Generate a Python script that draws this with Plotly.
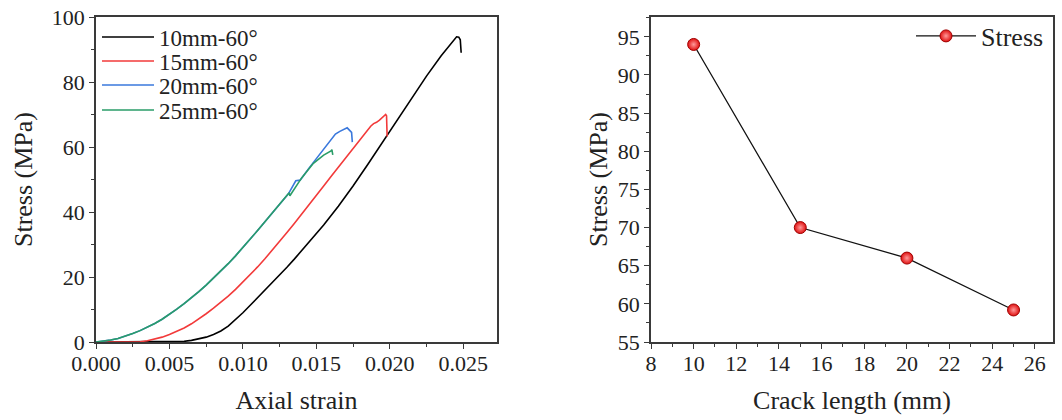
import plotly.graph_objects as go

# ---------------- Data: left panel (stress-strain curves) ----------------
strain_10 = [0.0000, 0.0050, 0.0055, 0.0060, 0.0065, 0.0070, 0.0075, 0.0080, 0.0085,
             0.0090, 0.0095, 0.0100, 0.0105, 0.0110, 0.0115, 0.0120, 0.0125, 0.0130,
             0.0135, 0.0145, 0.0155, 0.0165, 0.0175, 0.0185, 0.0195, 0.0205, 0.0215,
             0.0225, 0.0235, 0.0240, 0.0243, 0.02455, 0.0247, 0.0248, 0.02486]
stress_10 = [0.0, 0.0, 0.05, 0.2, 0.5, 0.9, 1.5, 2.3, 3.4,
             4.9, 6.8, 9.0, 11.3, 13.6, 15.9, 18.2, 20.6, 23.0,
             25.5, 30.6, 36.0, 41.8, 48.0, 54.6, 61.4, 68.3, 75.1,
             81.8, 88.1, 91.0, 92.7, 93.9, 93.8, 93.0, 89.0]

strain_15 = [0.0000, 0.0025, 0.0030, 0.0035, 0.0040, 0.0045, 0.0050, 0.0055, 0.0060,
             0.0065, 0.0070, 0.0075, 0.0080, 0.0085, 0.0090, 0.0095, 0.0100, 0.0105,
             0.0110, 0.0115, 0.0120, 0.0125, 0.0130, 0.0135, 0.0140, 0.0145, 0.0150,
             0.0155, 0.0160, 0.0165, 0.0170, 0.0175, 0.0180, 0.0184, 0.0187, 0.0189,
             0.0191, 0.0193, 0.0195, 0.01972, 0.01978, 0.01982]
stress_15 = [0.0, 0.0, 0.1, 0.4, 0.9, 1.5, 2.3, 3.2, 4.3,
             5.6, 7.1, 8.7, 10.4, 12.2, 14.1, 16.2, 18.4, 20.7,
             23.1, 25.6, 28.2, 30.9, 33.7, 36.5, 39.3, 42.2, 45.1,
             48.0, 50.9, 53.8, 56.7, 59.5, 62.3, 64.5, 66.4, 67.2,
             67.6, 68.3, 69.1, 70.0, 69.6, 63.2]

strain_20 = [0.0000, 0.0005, 0.0010, 0.0015, 0.0020, 0.0025, 0.0030, 0.0035, 0.0040,
             0.0045, 0.0050, 0.0055, 0.0060, 0.0065, 0.0070, 0.0075, 0.0080, 0.0085,
             0.0090, 0.0095, 0.0100, 0.0105, 0.0110, 0.0115, 0.0120, 0.0125, 0.0131,
             0.0136, 0.0139, 0.0145, 0.0155, 0.0163, 0.0166, 0.0171, 0.0174, 0.01745]
stress_20 = [0.0, 0.2, 0.6, 1.1, 1.8, 2.6, 3.5, 4.5, 5.7,
             7.0, 8.5, 10.1, 11.8, 13.6, 15.5, 17.5, 19.6, 21.8,
             24.1, 26.5, 29.0, 31.6, 34.3, 37.0, 39.7, 42.4, 45.6,
             49.6, 49.8, 53.5, 59.5, 64.0, 64.8, 65.9, 64.5, 61.5]

strain_25 = [0.0000, 0.0005, 0.0010, 0.0015, 0.0020, 0.0025, 0.0030, 0.0035, 0.0040,
             0.0045, 0.0050, 0.0055, 0.0060, 0.0065, 0.0070, 0.0075, 0.0080, 0.0085,
             0.0090, 0.0095, 0.0100, 0.0105, 0.0110, 0.0115, 0.0120, 0.0125, 0.0130,
             0.01315, 0.0132, 0.0134, 0.0140, 0.0148, 0.0155, 0.0160, 0.01606, 0.01612]
stress_25 = [0.0, 0.2, 0.6, 1.1, 1.8, 2.6, 3.5, 4.5, 5.7,
             7.0, 8.5, 10.1, 11.8, 13.6, 15.5, 17.5, 19.6, 21.8,
             24.1, 26.5, 29.0, 31.6, 34.3, 37.0, 39.7, 42.4, 45.2,
             45.9, 45.0, 46.4, 50.5, 55.0, 57.5, 58.8, 59.2, 57.6]

curve_names = ["10mm-60°", "15mm-60°", "20mm-60°", "25mm-60°"]
curve_colors = ["#000000", "#f23a3a", "#3a78dc", "#2a9d68"]
legend_rows = [37, 61, 85, 110]  # pixel centre of each legend row

# ---------------- Data: right panel (peak stress vs crack length) ----------------
crack_length = [10, 15, 20, 25]
peak_stress = [94.0, 70.0, 66.0, 59.2]

FONT = "Liberation Serif"
W, H = 1062, 420


def fx(px):
    return px / W


def fy(py):
    return 1 - py / H


fig = go.Figure()

curves = [(strain_10, stress_10), (strain_15, stress_15),
          (strain_20, stress_20), (strain_25, stress_25)]
legend_ids = ["legend", "legend2", "legend3", "legend4"]
for i, (sx, sy) in enumerate(curves):
    fig.add_trace(go.Scatter(
        x=sx, y=sy, mode="lines", name=curve_names[i],
        line=dict(color=curve_colors[i], width=1.6),
        xaxis="x", yaxis="y", legend=legend_ids[i],
    ))

fig.add_trace(go.Scatter(
    x=crack_length, y=peak_stress, mode="lines+markers", name="Stress",
    line=dict(color="#111111", width=1.3),
    marker=dict(size=12, color="#e01010", line=dict(color="#a00000", width=1),
                gradient=dict(type="radial", color="#ff9a9a")),
    xaxis="x2", yaxis="y2", legend="legend5",
))

axis_common = dict(
    showline=True, linecolor="#3a3a3a", linewidth=1.5, mirror=True,
    ticks="outside", ticklen=5, tickwidth=1.2, tickcolor="#3a3a3a",
    showgrid=False, zeroline=False, automargin=False,
    ticklabeloverflow="allow",
    tickfont=dict(family=FONT, size=22, color="#222222"),
    title_font=dict(family=FONT, size=26, color="#222222"),
)
minor_common = dict(ticks="outside", ticklen=3, tickcolor="#3a3a3a", tickwidth=1.1)

layout_legends = {}
for i, lid in enumerate(legend_ids):
    layout_legends[lid] = dict(
        x=fx(97), y=fy(legend_rows[i]), xanchor="left", yanchor="middle",
        bgcolor="rgba(0,0,0,0)", itemwidth=52,
        font=dict(family=FONT, size=23, color="#222222"))
layout_legends["legend5"] = dict(
    x=fx(911), y=fy(36), xanchor="left", yanchor="middle",
    bgcolor="rgba(0,0,0,0)", itemwidth=60,
    font=dict(family=FONT, size=26, color="#222222"))

fig.update_layout(
    width=W, height=H,
    margin=dict(l=0, r=0, t=0, b=0, autoexpand=False),
    paper_bgcolor="white", plot_bgcolor="white",
    xaxis=dict(domain=[fx(96), fx(497)], range=[0, 0.0273],
               tickvals=[0, 0.005, 0.010, 0.015, 0.020, 0.025],
               ticktext=["0.000", "0.005", "0.010", "0.015", "0.020", "0.025"],
               minor=dict(dtick=0.0025, tick0=0, **minor_common),
               title=dict(text="Axial strain", standoff=16),
               ticklabelstandoff=-4,
               anchor="y", **axis_common),
    yaxis=dict(domain=[fy(342), fy(17)], range=[0, 100],
               tickvals=[0, 20, 40, 60, 80, 100],
               minor=dict(dtick=10, tick0=0, **minor_common),
               title=dict(text="Stress (MPa)", standoff=12),
               ticklabelstandoff=0,
               anchor="x", **axis_common),
    xaxis2=dict(domain=[fx(651), fx(1053)], range=[8, 26.85],
                tickvals=list(range(8, 27, 2)),
                minor=dict(dtick=1, tick0=0, **minor_common),
                title=dict(text="Crack length (mm)", standoff=16),
                ticklabelstandoff=-4,
                anchor="y2", **axis_common),
    yaxis2=dict(domain=[fy(342), fy(17)], range=[55, 97.6],
                tickvals=list(range(55, 96, 5)),
                minor=dict(dtick=2.5, tick0=55, **minor_common),
                title=dict(text="Stress (MPa)", standoff=3),
                anchor="x2", **axis_common),
    showlegend=True,
    **layout_legends,
)

# remove the default 8px page margin so the figure fills the 1062x420 window exactly
fig.write_html("out.html",
               config={"displayModeBar": False},
               post_script="document.body.style.margin='0';document.body.style.overflow='hidden';")
